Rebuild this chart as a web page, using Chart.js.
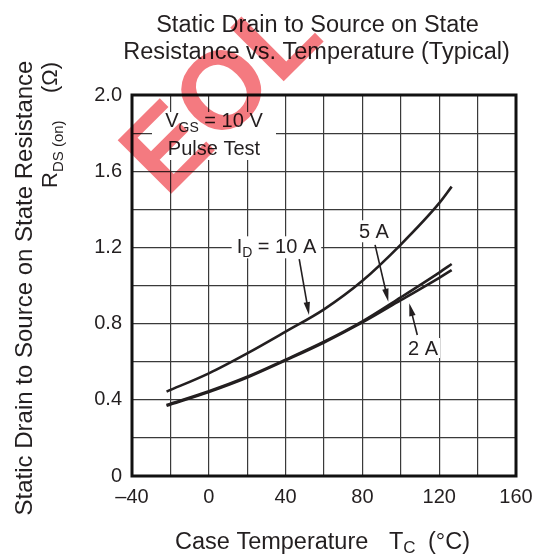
<!DOCTYPE html>
<html>
<head>
<meta charset="utf-8">
<script src="https://cdn.jsdelivr.net/npm/chart.js@4/dist/chart.umd.min.js"></script>
<style>
  html, body { margin: 0; padding: 0; background: #fff; }
  #wrap { width: 534px; height: 557px; position: relative; }
</style>
</head>
<body>
<div id="wrap"><canvas id="c" width="534" height="557"></canvas></div>
<script>
// ---- data ----
const temperatures = [-22, 0, 20, 40, 60, 80, 100, 120, 126.5];
const rds10A = [0.443, 0.539, 0.644, 0.758, 0.875, 1.025, 1.215, 1.432, 1.519];
const rds5A  = [0.373, 0.445, 0.521, 0.611, 0.705, 0.812, 0.938, 1.068, 1.113];
const rds2A  = [0.369, 0.441, 0.517, 0.607, 0.701, 0.806, 0.923, 1.040, 1.081];
const xTickLabels = [-40, 0, 40, 80, 120, 160];
const yTickLabels = [0, 0.4, 0.8, 1.2, 1.6, 2.0];
const seriesNames = ['I_D = 10 A', '5 A', '2 A'];

const INK = '#231f20';
const FONT = '"Liberation Sans", Arial, Helvetica, sans-serif';

function pts(ys) { return temperatures.map((t, i) => ({ x: t, y: ys[i] })); }

// rich text helper: segments [{t, size, dy}]
function richWidth(ctx, segs) {
  let w = 0;
  segs.forEach(s => { ctx.font = s.size + 'px ' + FONT; w += ctx.measureText(s.t).width; });
  return w;
}
function drawRich(ctx, segs, x, y, align) {
  let w = richWidth(ctx, segs);
  let cx = align === 'center' ? x - w / 2 : (align === 'right' ? x - w : x);
  segs.forEach(s => {
    ctx.font = s.size + 'px ' + FONT;
    ctx.textAlign = 'left';
    ctx.textBaseline = 'alphabetic';
    ctx.fillText(s.t, cx, y + (s.dy || 0));
    cx += ctx.measureText(s.t).width;
  });
  return w;
}
function arrow(ctx, x1, y1, x2, y2) {
  const ang = Math.atan2(y2 - y1, x2 - x1);
  const L = 13, W = 3.2;
  ctx.save();
  ctx.strokeStyle = INK; ctx.fillStyle = INK; ctx.lineWidth = 1.6;
  ctx.beginPath();
  ctx.moveTo(x1, y1);
  ctx.lineTo(x2 - Math.cos(ang) * (L - 2), y2 - Math.sin(ang) * (L - 2));
  ctx.stroke();
  ctx.beginPath();
  ctx.moveTo(x2, y2);
  ctx.lineTo(x2 - Math.cos(ang) * L - Math.sin(ang) * W, y2 - Math.sin(ang) * L + Math.cos(ang) * W);
  ctx.lineTo(x2 - Math.cos(ang) * L + Math.sin(ang) * W, y2 - Math.sin(ang) * L - Math.cos(ang) * W);
  ctx.closePath();
  ctx.fill();
  ctx.restore();
}

// annotation placements in data units (temperature, ohms)
const notes = {
  vgs:   { x: 2.7, y1: 1.832, y2: 1.685 },
  id10:  { x: 14.5, y: 1.169, from: [47.1, 1.138], to: [52.2, 0.845] },
  id5:   { x: 78.2, y: 1.248, from: [86.6, 1.213], to: [93.5, 0.915] },
  id2:   { x: 103.75, y: 0.635, from: [108.6, 0.740], to: [104.4, 0.907] }
};

const segVgs = [{ t: 'V', size: 20 }, { t: 'GS', size: 14, dy: 5 }, { t: ' = 10 V', size: 20 }];
const segPulse = [{ t: 'Pulse Test', size: 20 }];
const segId = [{ t: 'I', size: 20 }, { t: 'D', size: 14, dy: 4 }, { t: ' = 10 A', size: 20 }];
const seg5 = [{ t: '5 A', size: 20 }];
const seg2 = [{ t: '2 A', size: 20 }];

const decor = {
  id: 'decor',
  beforeDraw(chart) {
    const ctx = chart.ctx;
    ctx.save();
    ctx.fillStyle = '#fff';
    ctx.fillRect(0, 0, chart.width, chart.height);
    ctx.restore();
  },
  beforeDatasetsDraw(chart) {
    // white label boxes that interrupt the grid
    const ctx = chart.ctx, xs = chart.scales.x, ys = chart.scales.y;
    ctx.save();
    ctx.fillStyle = '#fff';
    ctx.fillRect(xs.getPixelForValue(notes.vgs.x) - 62, ys.getPixelForValue(notes.vgs.y1) - 15, 124, 48);
    const idx = xs.getPixelForValue(notes.id10.x), idy = ys.getPixelForValue(notes.id10.y);
    const wId = richWidth(ctx, segId);
    ctx.fillRect(idx - 5, idy - 17, wId + 10, 22);
    const x5 = xs.getPixelForValue(notes.id5.x), y5 = ys.getPixelForValue(notes.id5.y);
    ctx.fillRect(x5 - 4, y5 - 18, richWidth(ctx, seg5) + 8, 22);
    const x2 = xs.getPixelForValue(notes.id2.x), y2 = ys.getPixelForValue(notes.id2.y);
    ctx.fillRect(x2 - 2, y2 - 17, richWidth(ctx, seg2) + 4, 20);
    ctx.restore();
  },
  afterDatasetsDraw(chart) {
    const ctx = chart.ctx, xs = chart.scales.x, ys = chart.scales.y, a = chart.chartArea;
    ctx.save();
    // frame
    ctx.strokeStyle = '#111';
    ctx.lineWidth = 3;
    ctx.strokeRect(a.left, a.top, a.right - a.left, a.bottom - a.top);
    ctx.fillStyle = INK;
    // annotations
    drawRich(ctx, segVgs, xs.getPixelForValue(notes.vgs.x), ys.getPixelForValue(notes.vgs.y1), 'center');
    drawRich(ctx, segPulse, xs.getPixelForValue(notes.vgs.x), ys.getPixelForValue(notes.vgs.y2), 'center');
    drawRich(ctx, segId, xs.getPixelForValue(notes.id10.x), ys.getPixelForValue(notes.id10.y), 'left');
    drawRich(ctx, seg5, xs.getPixelForValue(notes.id5.x), ys.getPixelForValue(notes.id5.y), 'left');
    drawRich(ctx, seg2, xs.getPixelForValue(notes.id2.x), ys.getPixelForValue(notes.id2.y), 'left');
    [notes.id10, notes.id5, notes.id2].forEach(n => {
      arrow(ctx, xs.getPixelForValue(n.from[0]), ys.getPixelForValue(n.from[1]),
                 xs.getPixelForValue(n.to[0]), ys.getPixelForValue(n.to[1]));
    });
    // chart title
    ctx.fillStyle = INK;
    ctx.font = '23.5px ' + FONT;
    ctx.textAlign = 'center';
    ctx.textBaseline = 'alphabetic';
    ctx.fillText('Static Drain to Source on State', 317.5, 31.7);
    ctx.fillText('Resistance vs. Temperature (Typical)', 316.5, 59.3);
    // x-axis title
    drawRich(ctx, [{ t: 'Case Temperature', size: 23.5 }], 175, 549, 'left');
    drawRich(ctx, [{ t: 'T', size: 23.5 }, { t: 'C', size: 17, dy: 4 }], 389, 549, 'left');
    drawRich(ctx, [{ t: '(\u00B0C)', size: 23.5 }], 470, 549, 'right');
    // y-axis title (rotated)
    ctx.save();
    ctx.rotate(-Math.PI / 2);
    ctx.font = '24px ' + FONT;
    ctx.textAlign = 'center';
    ctx.fillText('Static Drain to Source on State Resistance', -288, 31.5);
    drawRich(ctx, [{ t: 'R', size: 22 }, { t: 'DS (on)', size: 15, dy: 6 }], -188, 57, 'left');
    drawRich(ctx, [{ t: '(\u03A9)', size: 22 }], -62, 57, 'right');
    ctx.restore();
    ctx.restore();
  },
  afterDraw(chart) {
    // red "EOL" stamp over the scan
    const ctx = chart.ctx;
    ctx.save();
    ctx.globalCompositeOperation = 'multiply';
    ctx.translate(166, 199);
    ctx.rotate(-Math.PI / 4);
    ctx.fillStyle = 'rgba(238,40,50,0.62)';
    ctx.font = 'bold 110px ' + FONT;
    ctx.textAlign = 'left';
    ctx.textBaseline = 'alphabetic';
    ctx.fillText('EOL', 0, 0);
    ctx.restore();
  }
};

const lineDs = (label, ys) => ({
  label, data: pts(ys), showLine: true, borderColor: INK, borderWidth: 2.6,
  pointRadius: 0, tension: 0.4, cubicInterpolationMode: 'monotone', fill: false
});

new Chart(document.getElementById('c'), {
  type: 'scatter',
  data: { datasets: [lineDs(seriesNames[0], rds10A), lineDs(seriesNames[1], rds5A), lineDs(seriesNames[2], rds2A)] },
  options: {
    responsive: false, animation: false, devicePixelRatio: 1,
    layout: { padding: { left: 0, right: 18, top: 95, bottom: 0 } },
    plugins: { legend: { display: false }, tooltip: { enabled: false }, title: { display: false } },
    scales: {
      x: {
        type: 'linear', min: xTickLabels[0], max: xTickLabels[xTickLabels.length - 1],
        afterFit(s) { s.height = 81; s.paddingLeft = 0; s.paddingRight = 0; },
        afterBuildTicks(s) { const t = []; for (let v = s.min; v <= s.max; v += 20) t.push({ value: v }); s.ticks = t; },
        grid: { color: '#3a3a3a', lineWidth: 1.2, drawTicks: false },
        border: { display: false },
        ticks: {
          padding: 9, color: INK, font: { family: FONT, size: 20 },
          maxRotation: 0, autoSkip: false,
          callback: v => xTickLabels.includes(v) ? (v < 0 ? '\u2013' + Math.abs(v) : String(v)) : ''
        }
      },
      y: {
        min: yTickLabels[0], max: yTickLabels[yTickLabels.length - 1],
        afterFit(s) { s.width = 132; s.paddingTop = 0; s.paddingBottom = 0; },
        afterBuildTicks(s) { const t = []; for (let i = 0; i <= 10; i++) t.push({ value: Math.round(i * 2) / 10 }); s.ticks = t; },
        grid: { color: '#3a3a3a', lineWidth: 1.2, drawTicks: false },
        border: { display: false },
        ticks: {
          padding: 10, color: INK, font: { family: FONT, size: 20 }, autoSkip: false,
          callback: v => yTickLabels.some(l => Math.abs(l - v) < 1e-6) ? (v === 0 ? '0' : v.toFixed(1)) : ''
        }
      }
    }
  },
  plugins: [decor]
});
</script>
</body>
</html>
